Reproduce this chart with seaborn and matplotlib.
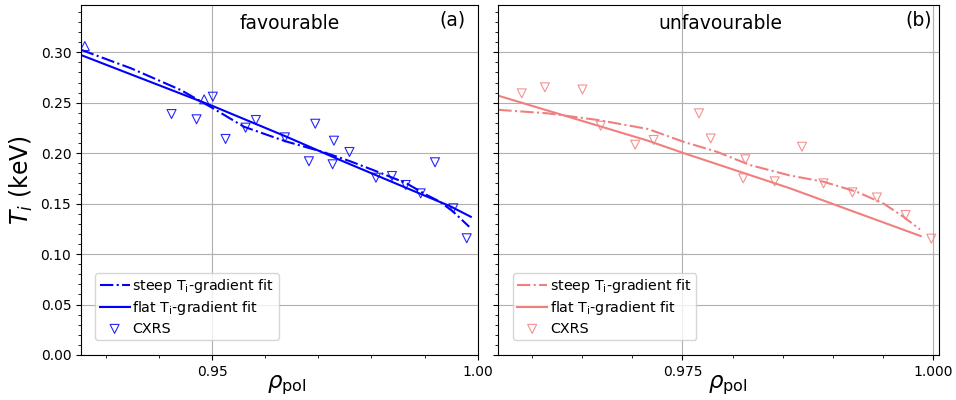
import numpy as np
import pandas as pd
import matplotlib
matplotlib.use("Agg")
import matplotlib.pyplot as plt
from matplotlib.ticker import MultipleLocator, FormatStrFormatter
import seaborn as sns

# ---------------- data ----------------
# (a) favourable
fav_rho = [0.94235, 0.94706, 0.95013, 0.95252, 0.95629, 0.95823, 0.96370, 0.96822,
           0.96941, 0.97268, 0.97293, 0.97585, 0.98084, 0.98386, 0.98644, 0.98926,
           0.99196, 0.99540, 0.99793]
fav_ti = [0.2388, 0.2336, 0.2560, 0.2141, 0.2253, 0.2329, 0.2157, 0.1920,
          0.2292, 0.1890, 0.2124, 0.2012, 0.1757, 0.1774, 0.1685, 0.1602,
          0.1910, 0.1454, 0.1157]
fav_up_rho = [0.92602, 0.94849]
fav_up_ti = [0.3062, 0.2534]

fav_steep_rho = [0.9253, 0.9347, 0.9441, 0.9500, 0.9560, 0.9637, 0.9710, 0.9760,
                 0.9816, 0.9866, 0.9904, 0.9929, 0.9954, 0.9984]
fav_steep_ti = [0.3025, 0.2842, 0.2626, 0.2450, 0.2262, 0.2120, 0.2010, 0.1920,
                0.1807, 0.1701, 0.1586, 0.1519, 0.1420, 0.1271]
fav_flat_rho = [0.9253, 0.9500, 0.9637, 0.9741, 0.9866, 0.9948, 0.9987]
fav_flat_ti = [0.2973, 0.2470, 0.2170, 0.1932, 0.1655, 0.1475, 0.1370]

# (b) unfavourable
unf_rho = [0.95894, 0.96126, 0.96501, 0.96683, 0.97028, 0.97212, 0.97665, 0.97782,
           0.98129, 0.98107, 0.98421, 0.98694, 0.98909, 0.99198, 0.99443, 0.99730,
           0.99986]
unf_ti = [0.2593, 0.2653, 0.2631, 0.2272, 0.2084, 0.2131, 0.2395, 0.2146,
          0.1939, 0.1751, 0.1721, 0.2064, 0.1701, 0.1612, 0.1561, 0.1387,
          0.1153]
unf_steep_rho = [0.9566, 0.96156, 0.96656, 0.97155, 0.97508, 0.97842, 0.98174,
                 0.98574, 0.98907, 0.99240, 0.99506, 0.99706, 0.99873]
unf_steep_ti = [0.2430, 0.2395, 0.2329, 0.2240, 0.2114, 0.2015, 0.1883,
                0.1779, 0.1718, 0.1618, 0.1503, 0.1371, 0.1245]
unf_flat_rho = [0.9566, 0.97155, 0.975, 0.98574, 0.99880]
unf_flat_ti = [0.2570, 0.2124, 0.2005, 0.1652, 0.1179]

panel_titles = ["favourable", "unfavourable"]
panel_tags = ["(a)", "(b)"]
legend_labels = [r"steep T$_\mathrm{i}$-gradient fit", r"flat T$_\mathrm{i}$-gradient fit", "CXRS"]

# ---------------- figure ----------------
plt.rcParams["font.family"] = ["DejaVu Sans"]
fig = plt.figure(figsize=(9.56, 4.0), dpi=100)
ax1 = fig.add_axes([81 / 956, 45 / 400, 396.7 / 956, 349.7 / 400])
ax2 = fig.add_axes([498.3 / 956, 45 / 400, 441 / 956, 349.7 / 400])

def draw(ax, col, steep_r, steep_t, flat_r, flat_t, pr, pt):
    sns.lineplot(x=steep_r, y=steep_t, ax=ax, color=col, linestyle="-.", lw=1.5,
                 sort=False, estimator=None, label=legend_labels[0])
    sns.lineplot(x=flat_r, y=flat_t, ax=ax, color=col, linestyle="-", lw=1.5,
                 sort=False, estimator=None, label=legend_labels[1])
    sns.scatterplot(x=pr, y=pt, ax=ax, marker="v", s=42, facecolor="none",
                    edgecolor=col, linewidth=0.8, alpha=0.85, label=legend_labels[2])

draw(ax1, "blue", fav_steep_rho, fav_steep_ti, fav_flat_rho, fav_flat_ti, fav_rho, fav_ti)
sns.scatterplot(x=fav_up_rho, y=fav_up_ti, ax=ax1, marker="^", s=42, facecolor="none",
                edgecolor="blue", linewidth=0.8, alpha=0.85, legend=False)
draw(ax2, "lightcoral", unf_steep_rho, unf_steep_ti, unf_flat_rho, unf_flat_ti, unf_rho, unf_ti)

ax1.set_xlim(0.9253, 1.0)
ax2.set_xlim(0.9566, 1.00066)
for ax in (ax1, ax2):
    ax.set_ylim(0, 0.3466)
    ax.yaxis.set_major_locator(MultipleLocator(0.05))
    ax.yaxis.set_minor_locator(MultipleLocator(0.01))
    ax.grid(True, which="major", color="#b0b0b0", lw=0.8)
    ax.set_axisbelow(True)
    ax.tick_params(labelsize=10)
ax1.xaxis.set_major_locator(MultipleLocator(0.05))
ax1.xaxis.set_minor_locator(MultipleLocator(0.01))
ax2.xaxis.set_major_locator(MultipleLocator(0.025))
ax2.xaxis.set_minor_locator(MultipleLocator(0.005))
ax1.xaxis.set_major_formatter(FormatStrFormatter("%.2f"))
ax2.xaxis.set_major_formatter(FormatStrFormatter("%.3f"))
ax1.yaxis.set_major_formatter(FormatStrFormatter("%.2f"))
ax2.tick_params(labelleft=False)

ax1.set_ylabel(r"$T_i$ (keV)", fontsize=17)
ax2.set_ylabel("")
ax1.set_xlabel(r"$\rho_\mathrm{pol}$", fontsize=16.5)
ax2.set_xlabel(r"$\rho_\mathrm{pol}$", fontsize=16.5)
ax1.xaxis.set_label_coords(0.519, -0.052)
ax2.xaxis.set_label_coords(0.521, -0.052)

ax1.text(0.525, 0.948, panel_titles[0], transform=ax1.transAxes, ha="center", va="center", fontsize=13.5)
ax1.text(0.968, 0.958, panel_tags[0], transform=ax1.transAxes, ha="right", va="center", fontsize=13.5)
ax2.text(0.503, 0.948, panel_titles[1], transform=ax2.transAxes, ha="center", va="center", fontsize=13.5)
ax2.text(0.983, 0.958, panel_tags[1], transform=ax2.transAxes, ha="right", va="center", fontsize=13.5)

ax1.legend(loc="lower left", bbox_to_anchor=(0.036, 0.043), fontsize=10.3,
           borderpad=0.3, labelspacing=0.3, handlelength=2.1,
           handletextpad=0.2, borderaxespad=0.0)
ax2.legend(loc="lower left", bbox_to_anchor=(0.033, 0.043), fontsize=10.3,
           borderpad=0.3, labelspacing=0.3, handlelength=2.1,
           handletextpad=0.2, borderaxespad=0.0)

fig.savefig("out.png", dpi=100)
